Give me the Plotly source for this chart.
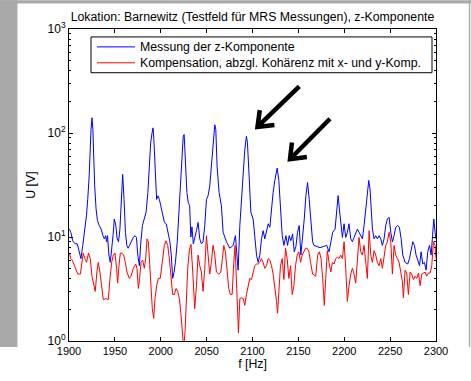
import math
import plotly.graph_objects as go

# ---------------- data ----------------
freq_blue = [1900.4, 1902, 1904, 1906.6, 1909, 1911, 1913, 1915, 1917, 1919, 1920.4, 1922, 1924, 1925, 1926, 1927, 1928, 1929.5, 1931, 1933,
             1935, 1937, 1938.5, 1940, 1941, 1942, 1943.5, 1945, 1946.5, 1948, 1949.4, 1951, 1952.5, 1954, 1955.5, 1957, 1958.5, 1960, 1961.5, 1963,
             1964.5, 1966, 1968, 1970, 1972, 1973.5, 1975, 1976.7, 1978, 1980, 1982, 1984, 1986, 1987.6, 1989, 1990.5, 1991.6, 1992.5, 1994, 1995.5,
             1997, 1998.5, 2000, 2002, 2004, 2006, 2008, 2010, 2011.5, 2013, 2014.5, 2016, 2018, 2020, 2021.5, 2023, 2024.5, 2025.5, 2027, 2028.5,
             2030, 2031.5, 2032.8, 2034, 2035.5, 2037, 2038.9, 2040.7, 2042.5, 2044.3, 2046.1, 2048, 2049.8, 2051.6, 2053.4, 2055.2, 2057, 2058.9, 2060, 2061.4,
             2063.6, 2066.1, 2068, 2071.6, 2075.2, 2078.9, 2081.4, 2083.2, 2084.3, 2086.2, 2088, 2089.8, 2091.6, 2093.4, 2094.5, 2096.3, 2098.2, 2100.7, 2102.5, 2104.4,
             2106.2, 2108, 2109.8, 2111.6, 2113.4, 2115.3, 2117.1, 2118.9, 2120.7, 2122.5, 2124.3, 2126.9, 2128.7, 2130.5, 2132.4, 2134.2, 2136.4, 2138.2, 2140, 2141.8,
             2143.7, 2145.5, 2147.3, 2149.1, 2150.9, 2152.7, 2154.6, 2156.4, 2158.2, 2160, 2161.8, 2163.6, 2165.5, 2167, 2170, 2173.6, 2177.2, 2180.9, 2183.4, 2185.6,
             2187.4, 2190, 2191.8, 2193.3, 2194.7, 2196.5, 2198, 2199.8, 2201.6, 2203.4, 2205.2, 2207.1, 2208.9, 2210.7, 2212.5, 2214.3, 2216.1, 2218, 2219.8, 2221.6,
             2223.4, 2225.2, 2226.7, 2228.1, 2229.2, 2230.7, 2232.5, 2234.3, 2236.1, 2238, 2239.8, 2241.6, 2243.4, 2245.2, 2247, 2248.9, 2250.7, 2252.5, 2254.3, 2256.1,
             2258.3, 2260.1, 2262, 2263.8, 2266.3, 2269.2, 2271.1, 2272.9, 2274.7, 2276.5, 2278.3, 2280.1, 2282, 2283.8, 2285.6, 2287.4, 2289.2, 2291, 2292.9, 2294.7,
             2296.1, 2297.6, 2299, 2300]
u_blue = [11.9, 11.1, 9.2, 8.6, 8.6, 7.4, 6.2, 8.3, 11.1, 16, 23, 38.6, 108, 140, 108, 55.8, 31, 18.6, 14.4, 12.9,
          11.9, 10.3, 9.6, 10.3, 9.0, 10.3, 6.7, 5.7, 7.2, 10.3, 14.9, 12.9, 9.6, 9.0, 11.9, 23, 40, 23, 11.1, 8.3,
          7.8, 8.3, 9.2, 9.9, 10.3, 9.9, 6.7, 5.3, 8.3, 12.9, 14.9, 17.3, 26.8, 48, 80.5, 100, 112, 86.5, 48, 23,
          24.9, 23, 20, 16, 13.8, 13.4, 11.1, 9.0, 6.7, 4.0, 4.6, 5.7, 9.0, 18.6, 33.4, 69.5, 93, 96.6, 55.8, 26.8,
          21.5, 20, 10, 12.5, 8.6, 9.6, 11.5, 13.8, 9.6, 8.6, 9.0, 12.9, 23, 25, 31, 48, 69.5, 120, 108, 48,
          26.8, 20, 11.1, 9.0, 7.8, 8.3, 10.3, 6.7, 4.8, 12.9, 23, 38.6, 69.5, 93, 80.5, 38.6, 17.3, 14.9, 10.3, 6.7,
          5.7, 6.7, 9.6, 11.5, 9.6, 11.9, 13.4, 12.4, 20, 26.8, 35, 46, 35, 18.6, 10.3, 8.3, 10.3, 8.3, 10.3, 9.2,
          10.7, 7.2, 8.1, 11.1, 12.9, 6.7, 9.6, 14.9, 25, 33.4, 23, 12.9, 9.0, 8.3, 8.1, 7.9, 8.1, 8.3, 7.2, 9.0,
          11.1, 11.9, 18.6, 25, 18.6, 11.9, 9.9, 13.4, 9.9, 11.1, 13.4, 9.6, 9.0, 9.9, 10.7, 11.9, 11.1, 10.3, 9.6, 12.9,
          18.6, 26.8, 35, 29, 18.6, 11.9, 9.6, 10.3, 9.6, 10.3, 9.6, 8.3, 9.6, 12.9, 14.9, 15.5, 11.1, 9.0, 10.3, 12.4,
          12.9, 12.4, 9.6, 6.7, 5.7, 5.5, 6.2, 7.4, 9.0, 8.3, 6.7, 6.0, 5.3, 7.2, 5.5, 5.7, 4.8, 7.2, 8.3, 6.7,
          10.3, 14.9, 11.1, 9.6]

freq_red = [1900.4, 1902, 1903.6, 1906.6, 1909.5, 1912.4, 1913.8, 1915.5, 1917.3, 1919.1, 1921.3, 1923.2, 1925, 1926.8, 1928.6, 1930.4, 1931.9, 1933.7, 1935.5, 1937.4,
            1940.2, 1942.8, 1944.7, 1946.5, 1948.3, 1950.1, 1951.9, 1953, 1954.5, 1955.9, 1957.7, 1959.6, 1961.4, 1963.2, 1965.7, 1967.6, 1970.1, 1972.7, 1974.1, 1975.6,
            1977, 1978.5, 1980.3, 1982.1, 1983.6, 1985, 1986.5, 1987.9, 1989.4, 1990.8, 1992.3, 1993.7, 1995.5, 1997.4, 1999.5, 2001.4, 2003.9, 2005.7, 2007.6, 2009.4,
            2011.2, 2013, 2014.8, 2016.7, 2018.5, 2020.3, 2022.1, 2024, 2025, 2026.5, 2027.9, 2029.4, 2031.2, 2033, 2035, 2037, 2038.9, 2040.7, 2042.5, 2044.3,
            2046.1, 2048, 2049.8, 2051.6, 2053.4, 2055.2, 2057, 2058.9, 2060.7, 2063.2, 2065.4, 2067.2, 2068.7, 2070.5, 2072.3, 2074.1, 2075.9, 2077.8, 2079.6, 2081,
            2082.5, 2083.6, 2084.7, 2086.2, 2088, 2089.8, 2091.6, 2093.4, 2095.3, 2097.1, 2098.9, 2100.7, 2102.5, 2104.4, 2106.2, 2108, 2109.8, 2111.6, 2113.4, 2115.3,
            2117.1, 2118.9, 2120.7, 2122.5, 2124.3, 2126.2, 2127.3, 2128.7, 2130.5, 2132.4, 2134.2, 2136, 2137.8, 2139.6, 2141.5, 2143.3, 2145.1, 2146.9, 2148.7, 2150.5,
            2152.4, 2154.2, 2156, 2157.8, 2159.6, 2161.5, 2163.3, 2165.5, 2168.9, 2171, 2172.9, 2174.7, 2176.5, 2178.3, 2179.8, 2181.6, 2183.4, 2185.3, 2187.1, 2188.9,
            2190.7, 2192.5, 2194.3, 2196.1, 2198, 2199.8, 2201.6, 2203.4, 2205.2, 2207.1, 2208.9, 2210.7, 2212.5, 2214.3, 2216.1, 2218, 2219.8, 2221.6, 2223.4, 2225.2,
            2227.1, 2228.9, 2230.7, 2232.5, 2234.3, 2236.1, 2238, 2239.8, 2241.6, 2243.4, 2245.2, 2247, 2248.9, 2250.7, 2252.5, 2254.3, 2256.1, 2258, 2259.8, 2261.6,
            2263.4, 2264.5, 2266.3, 2268.1, 2269.9, 2271.8, 2273.6, 2275.4, 2277.2, 2279, 2280.9, 2282.7, 2284.5, 2286.3, 2288.1, 2289.9, 2291.8, 2293.6, 2295.4, 2297.2,
            2299, 2300]
u_red = [7.0, 6.2, 6.0, 5.0, 4.4, 4.4, 5.7, 7.0, 6.2, 5.7, 7.0, 6.2, 4.2, 3.4, 3.0, 4.6, 5.7, 4.6, 3.2, 2.5,
         2.56, 2.5, 4.0, 5.7, 6.7, 7.0, 5.0, 3.6, 5.3, 7.0, 7.0, 6.7, 5.7, 4.6, 4.0, 4.2, 5.0, 5.5, 5.0, 3.2,
         4.0, 5.7, 6.0, 5.0, 6.2, 9.6, 9.0, 5.0, 3.0, 2.05, 1.65, 2.56, 3.4, 4.0, 4.0, 5.3, 8.3, 9.2, 8.3, 6.2,
         4.0, 2.8, 2.8, 3.2, 3.0, 2.56, 1.78, 1.23, 0.85, 1.23, 2.56, 5.0, 7.5, 8.5, 4.4, 2.05, 3.4, 6.7, 5.3, 4.6,
         3.0, 5.0, 10.3, 6.2, 4.4, 5.7, 8.3, 6.7, 4.6, 4.4, 4.6, 6.2, 8.3, 7.2, 5.0, 3.2, 2.8, 2.8, 5.7, 8.3,
         3.7, 1.9, 1.2, 2.56, 2.6, 2.56, 2.2, 2.8, 3.4, 4.0, 3.9, 4.6, 5.3, 5.5, 5.5, 5.7, 6.2, 5.7, 5.0, 5.3,
         6.2, 6.0, 5.3, 4.4, 3.4, 2.4, 1.85, 3.0, 5.3, 6.2, 3.9, 7.8, 6.2, 4.0, 5.3, 2.8, 3.4, 5.3, 6.7, 7.2,
         5.7, 6.7, 7.4, 7.8, 7.8, 7.2, 5.7, 4.4, 4.2, 6.7, 7.2, 6.2, 4.0, 2.2, 4.0, 7.4, 5.7, 4.6, 5.7, 5.5,
         6.2, 6.4, 6.2, 6.7, 6.2, 9.0, 5.0, 2.4, 3.4, 4.4, 5.0, 4.4, 3.6, 6.2, 9.9, 7.2, 6.7, 8.3, 5.7, 4.0,
         11.5, 6.7, 5.7, 7.4, 6.7, 5.7, 5.3, 6.2, 5.0, 6.7, 8.3, 9.0, 11.1, 9.0, 4.4, 8.3, 6.7, 6.2, 5.7, 4.6,
         3.7, 2.6, 4.8, 4.5, 2.8, 4.6, 4.4, 3.9, 4.2, 4.0, 4.5, 3.4, 4.4, 4.5, 4.6, 4.2, 4.5, 4.5, 5.3, 9.0,
         8.3, 6.2]

x_ticks = [1900, 1950, 2000, 2050, 2100, 2150, 2200, 2250, 2300]
y_ticks = [1, 10, 100, 1000]
y_tick_text = ["10<sup>0</sup>", "10<sup>1</sup>", "10<sup>2</sup>", "10<sup>3</sup>"]
y_minor = [m * d for d in (1, 10, 100) for m in range(2, 10)]

title_text = "Lokation: Barnewitz (Testfeld für MRS Messungen), z-Komponente"
series_names = ["Messung der z-Komponente", "Kompensation, abzgl. Kohärenz mit x- und y-Komp."]
series_colors = ["#0000ff", "#ff0000"]

# ---------------- layout geometry ----------------
W, H = 471, 381
ML, MR, MT, MB = 69, 35, 29, 38
PW, PH = W - ML - MR, H - MT - MB


def px(xpix):
    return (xpix - ML) / PW


def py(ypix):
    return (H - MB - ypix) / PH


FONT = "Liberation Sans, Arial, Helvetica, sans-serif"
GRAY = "#a9a9a9"
TXT = 12.3

fig = go.Figure()
for fr, uv, nm, col in [(freq_blue, u_blue, series_names[0], series_colors[0]),
                        (freq_red, u_red, series_names[1], series_colors[1])]:
    fig.add_trace(go.Scatter(x=fr, y=uv, mode="lines", name=nm,
                             line=dict(color=col, width=1), showlegend=False))

axis_common = dict(showline=True, linecolor="black", linewidth=1, mirror="ticks",
                   ticks="inside", ticklen=4, tickcolor="black", showgrid=False,
                   zeroline=False)

fig.update_xaxes(range=[1900, 2300], tickvals=x_ticks, ticktext=[str(t) for t in x_ticks],
                 tickfont=dict(family=FONT, size=11, color="black"),
                 title=dict(text="f [Hz]", font=dict(family=FONT, size=TXT, color="black"), standoff=3),
                 **axis_common)
fig.update_yaxes(type="log", range=[0, 3], tickvals=y_ticks, ticktext=y_tick_text,
                 tickfont=dict(family=FONT, size=12, color="black"),
                 minor=dict(ticks="inside", ticklen=2, tickcolor="black", tickvals=y_minor),
                 title=dict(text="U [V]", font=dict(family=FONT, size=TXT, color="black"), standoff=9),
                 **axis_common)

shapes = [
    # gray window-background strips around the white figure
    dict(type="rect", xref="paper", yref="paper", x0=px(0), x1=px(17.5), y0=py(349), y1=py(0),
         fillcolor=GRAY, line=dict(width=0), layer="below"),
    dict(type="rect", xref="paper", yref="paper", x0=px(0), x1=px(471), y0=py(3.3), y1=py(0),
         fillcolor=GRAY, line=dict(width=0), layer="below"),
    dict(type="rect", xref="paper", yref="paper", x0=px(468.8), x1=px(470.2), y0=py(349), y1=py(0),
         fillcolor=GRAY, line=dict(width=0), layer="below"),
    # legend box
    dict(type="rect", xref="paper", yref="paper", x0=px(91), x1=px(432), y0=py(73), y1=py(37),
         fillcolor="white", line=dict(color="black", width=1), layer="above"),
]

annotations = []
legend_rows = [47, 63]
for row, nm, col in zip(legend_rows, series_names, series_colors):
    shapes.append(dict(type="line", xref="paper", yref="paper", x0=px(97), x1=px(135),
                       y0=py(row), y1=py(row), line=dict(color=col, width=1), layer="above"))
    annotations.append(dict(xref="paper", yref="paper", x=px(138), y=py(row), text=nm,
                            showarrow=False, xanchor="left", yanchor="middle",
                            font=dict(family=FONT, size=TXT, color="black")))


# arrows (tail -> tip, pixel positions), drawn as a shaft plus a chevron head
def arrow_shapes(tail, tip, wing=17, half_angle=38, width=4.5):
    dx, dy = tail[0] - tip[0], tail[1] - tip[1]
    ln = math.hypot(dx, dy)
    ux, uy = dx / ln, dy / ln
    pts = []
    for s in (1, -1):
        a = math.radians(s * half_angle)
        wx = ux * math.cos(a) - uy * math.sin(a)
        wy = ux * math.sin(a) + uy * math.cos(a)
        pts.append((tip[0] + wing * wx, tip[1] + wing * wy))
    shaft = "M{},{} L{},{}".format(px(tail[0]), py(tail[1]), px(tip[0] + 2 * ux), py(tip[1] + 2 * uy))
    head = "M{},{} L{},{} L{},{}".format(px(pts[0][0]), py(pts[0][1]), px(tip[0]), py(tip[1]),
                                         px(pts[1][0]), py(pts[1][1]))
    return [dict(type="path", xref="paper", yref="paper", path=shaft,
                 line=dict(color="black", width=width), layer="above"),
            dict(type="path", xref="paper", yref="paper", path=head,
                 line=dict(color="black", width=width), layer="above")]


shapes += arrow_shapes((299.3, 86.7), (257.5, 127.5))
shapes += arrow_shapes((330.0, 119.3), (290.0, 160.0))

fig.update_layout(
    width=W, height=H,
    margin=dict(l=ML, r=MR, t=MT, b=MB, pad=0),
    paper_bgcolor="white", plot_bgcolor="white",
    font=dict(family=FONT, size=11, color="black"),
    title=dict(text=title_text, x=0.5, xref="paper", xanchor="center",
               y=1 - 17 / H, yref="container", yanchor="middle",
               font=dict(family=FONT, size=TXT, color="black")),
    shapes=shapes,
    annotations=annotations,
    showlegend=False,
)

fig.write_html("out.html")
